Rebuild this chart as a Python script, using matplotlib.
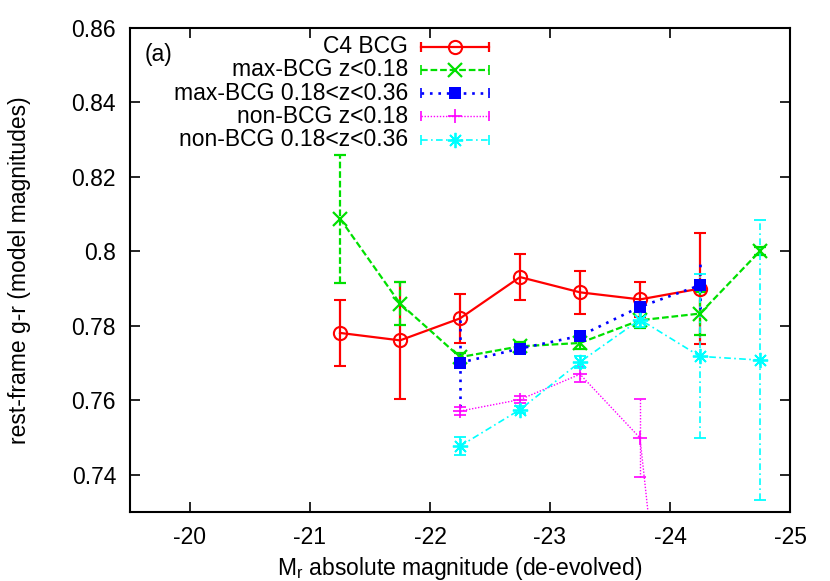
import numpy as np
import matplotlib
matplotlib.use("Agg")
import matplotlib.pyplot as plt

plt.rcParams['font.family'] = ['Liberation Sans', 'DejaVu Sans']
plt.rcParams['mathtext.fontset'] = 'custom'
plt.rcParams['mathtext.rm'] = 'Liberation Sans'
plt.rcParams['mathtext.it'] = 'Liberation Sans:italic'

FS = 16.5

# ---- data ----
c4_x = [-21.25, -21.75, -22.25, -22.75, -23.25, -23.75, -24.25]
c4_y = [0.7781, 0.7761, 0.7820, 0.7931, 0.7890, 0.7871, 0.7900]
c4_err = [0.0088, 0.0157, 0.0065, 0.0061, 0.0057, 0.0047, 0.0150]

mz1_x = [-21.25, -21.75, -22.25, -22.75, -23.25, -23.75, -24.25, -24.75]
mz1_y = [0.8088, 0.7860, 0.7716, 0.7745, 0.7754, 0.7815, 0.7833, 0.8001]
mz1_err = [0.0172, 0.0058, 0.0010, 0.0012, 0.0015, 0.0022, 0.0058, 0.0010]

mz2_x = [-22.25, -22.75, -23.25, -23.75, -24.25]
mz2_y = [0.7701, 0.7739, 0.7773, 0.7851, 0.7909]
mz2_err = [0.0120, 0.0015, 0.0015, 0.0020, 0.0063]

nz1_x = [-22.25, -22.75, -23.25, -23.75, -24.25]
nz1_y = [0.7571, 0.7602, 0.7670, 0.7499, 0.6006]
nz1_err = [0.0010, 0.0010, 0.0020, 0.0105, 0.0200]

nz2_x = [-22.25, -22.75, -23.25, -23.75, -24.25, -24.75]
nz2_y = [0.7477, 0.7575, 0.7703, 0.7817, 0.7718, 0.7708]
nz2_err = [0.0025, 0.0010, 0.0015, 0.0020, 0.0220, 0.0376]

labels = ["C4 BCG", "max-BCG z<0.18", "max-BCG 0.18<z<0.36",
          "non-BCG z<0.18", "non-BCG 0.18<z<0.36"]

xticks = [-20, -21, -22, -23, -24, -25]
yticks = [0.74, 0.76, 0.78, 0.80, 0.82, 0.84, 0.86]
ytick_labels = ["0.74", "0.76", "0.78", "0.8", "0.82", "0.84", "0.86"]

# ---- styles ----
styles = [
    dict(color='#ff0000', ls='-', lw=1.6, marker='o', ms=9.5, mfc='none', mew=1.5),
    dict(color='#00e000', ls=(0, (3.0, 1.3)), lw=1.6, marker='x', ms=9.5, mfc='none', mew=1.6),
    dict(color='#0000ff', ls=(0, (1.0, 2.2)), lw=1.9, marker='s', ms=8.5, mfc='#0000ff', mew=0),
    dict(color='#ff00ff', ls=(0, (1.0, 1.2)), lw=1.0, marker='+', ms=10, mfc='none', mew=1.2),
    dict(color='#00ffff', ls=(0, (4, 2, 1, 2)), lw=1.2, marker=(8, 2, 0), ms=11, mfc='none', mew=1.3),
]
series = [(c4_x, c4_y, c4_err), (mz1_x, mz1_y, mz1_err), (mz2_x, mz2_y, mz2_err),
          (nz1_x, nz1_y, nz1_err), (nz2_x, nz2_y, nz2_err)]

fig = plt.figure(figsize=(8.3, 5.81), dpi=100)
ax = fig.add_axes([130/830, 1-512/581, 660/830, 484/581])

for (xs, ys, es), st in zip(series, styles):
    cont = ax.errorbar(xs, ys, yerr=es, color=st['color'], ls=st['ls'], lw=st['lw'],
                       marker=st['marker'], ms=st['ms'], mfc=st['mfc'], mec=st['color'],
                       mew=st['mew'], capsize=4.5, capthick=st['lw'] if st['ls'] == '-' else 1.2,
                       elinewidth=st['lw'])
    for bc in cont[2]:
        bc.set_linestyle(st['ls'])

ax.set_xlim(-19.5, -25)
ax.set_ylim(0.73, 0.86)
ax.set_xticks(xticks)
ax.set_xticklabels([str(t) for t in xticks])
ax.set_yticks(yticks)
ax.set_yticklabels(ytick_labels)
ax.tick_params(direction='in', length=7, width=1.2, top=True, right=True,
               labelsize=FS, pad=10)
for sp in ax.spines.values():
    sp.set_linewidth(1.5)

ax.set_xlabel(r'M$_\mathrm{r}$ absolute magnitude (de-evolved)', fontsize=FS)
ax.set_ylabel('rest-frame g-r (model magnitudes)', fontsize=FS)
ax.yaxis.set_label_coords(-0.15, 0.5)
ax.xaxis.set_label_coords(0.5, -0.088)

ax.text(15/660, 1-26/484, '(a)', transform=ax.transAxes, fontsize=FS,
        ha='left', va='center')

# manual gnuplot-style key
x_text = (408-130)/660
x0, x1 = (421-130)/660, (489-130)/660
xm = (x0 + x1) / 2
for i, (lab, st) in enumerate(zip(labels, styles)):
    yy = (512 - (46.7 + 23.2*i)) / 484
    ax.text(x_text, yy, lab, transform=ax.transAxes, fontsize=FS, ha='right', va='center')
    ax.plot([x0, x1], [yy, yy], transform=ax.transAxes, color=st['color'], ls=st['ls'],
            lw=st['lw'], clip_on=False)
    ax.plot([x0, x1], [yy, yy], transform=ax.transAxes, color=st['color'], ls='none',
            marker='|', ms=7, mew=st['lw'] if st['ls'] == '-' else 1.2, clip_on=False)
    ax.plot([xm], [yy], transform=ax.transAxes, color=st['color'], ls='none',
            marker=st['marker'], ms=st['ms'], mfc=st['mfc'], mec=st['color'],
            mew=st['mew'], clip_on=False)

fig.savefig('out.png', dpi=100)
